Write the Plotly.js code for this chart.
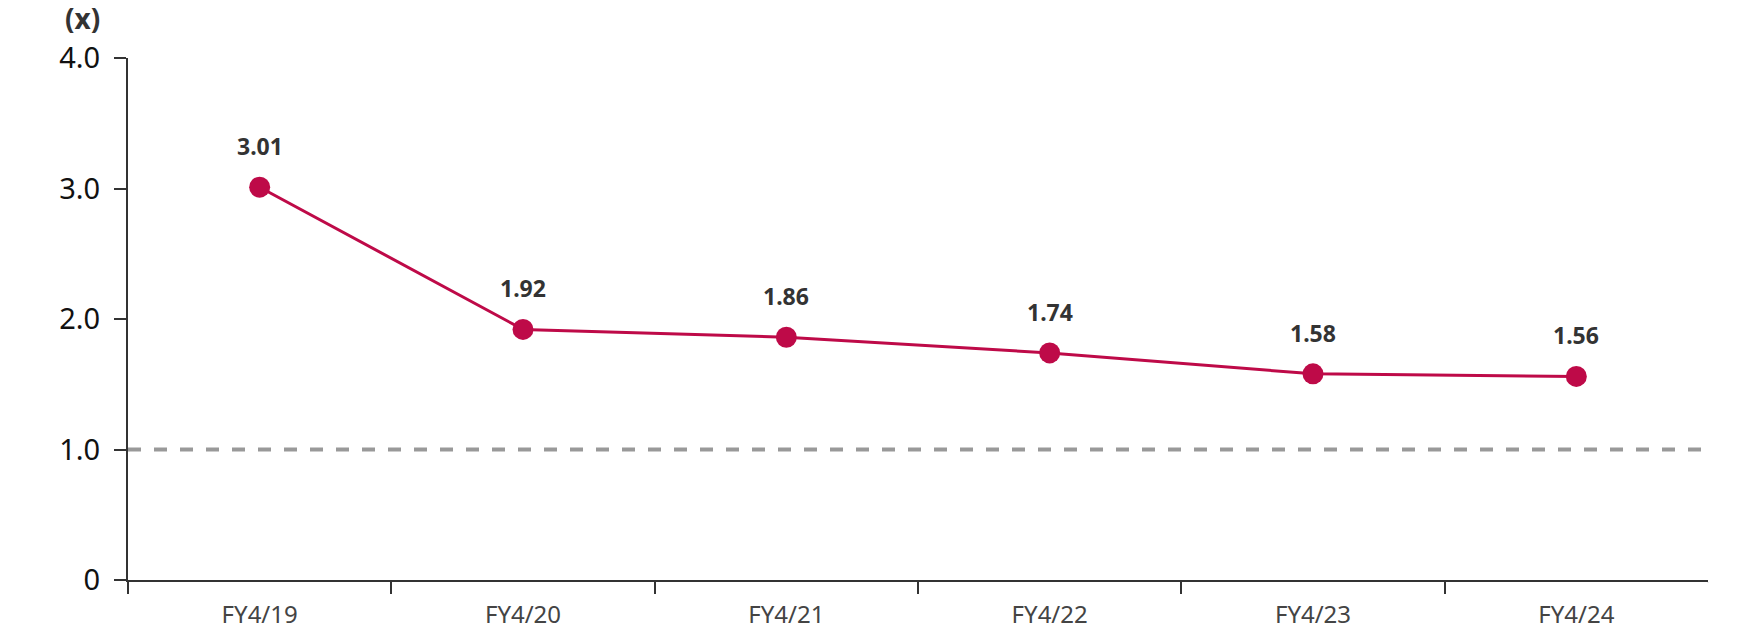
<!DOCTYPE html>
<html>
<head>
<meta charset="utf-8">
<script src="https://cdn.plot.ly/plotly-3.0.1.min.js"></script>
<style>html,body{margin:0;padding:0;background:#fff;}#chart{width:1760px;height:634px;}</style>
</head>
<body>
<div id="chart"></div>
<script>
const categories = ['FY4/19', 'FY4/20', 'FY4/21', 'FY4/22', 'FY4/23', 'FY4/24'];
const ratios = [3.01, 1.92, 1.86, 1.74, 1.58, 1.56];
const valueLabels = ['3.01', '1.92', '1.86', '1.74', '1.58', '1.56'];
const yTickVals = [0, 1, 2, 3, 4];
const yTickText = ['0', '1.0', '2.0', '3.0', '4.0'];
const referenceLevel = 1.0;
const unitLabel = '(x)';

const FONT = '"Noto Sans", "Noto Sans CJK JP", sans-serif';
const LINE = '#BE0A48';

const trace = {
  type: 'scatter',
  mode: 'lines+markers',
  x: categories,
  y: ratios,
  line: {color: LINE, width: 3},
  marker: {color: LINE, size: 21},
  hoverinfo: 'skip',
  cliponaxis: false
};

const annotations = categories.map((c, i) => ({
  x: c, y: ratios[i], xref: 'x', yref: 'y',
  text: '<b>' + valueLabels[i] + '</b>',
  showarrow: false, yshift: 41,
  font: {family: FONT, size: 23, color: '#333333'}
}));
annotations.push({
  xref: 'paper', yref: 'paper', x: -0.029, y: 1.077, xanchor: 'center', yanchor: 'middle',
  text: '<b>' + unitLabel + '</b>', showarrow: false,
  font: {family: FONT, size: 28, color: '#333333'}
});

const layout = {
  width: 1760, height: 634,
  margin: {l: 128, r: 52, t: 58, b: 54},
  paper_bgcolor: '#ffffff', plot_bgcolor: '#ffffff',
  showlegend: false,
  xaxis: {
    type: 'category',
    range: [-0.5, categories.length - 0.5],
    showgrid: false, zeroline: false,
    showline: true, linecolor: '#333333', linewidth: 2,
    ticks: 'outside', tickson: 'boundaries', ticklen: 12, tickwidth: 2, tickcolor: '#333333',
    ticklabelstandoff: 12,
    tickfont: {family: FONT, size: 24, color: '#444444'},
    fixedrange: true
  },
  yaxis: {
    range: [0, 4],
    tickvals: yTickVals, ticktext: yTickText,
    showgrid: false, zeroline: false,
    showline: true, linecolor: '#333333', linewidth: 2,
    ticks: 'outside', ticklen: 12, tickwidth: 2, tickcolor: '#333333',
    ticklabelstandoff: 8,
    tickfont: {family: FONT, size: 29, color: '#111111'},
    fixedrange: true
  },
  shapes: [{
    type: 'line', xref: 'paper', yref: 'y', x0: 0, x1: 1, y0: referenceLevel, y1: referenceLevel,
    line: {color: '#999999', width: 4, dash: '13px,13px'}, layer: 'below'
  }, {
    type: 'line', xref: 'paper', yref: 'paper', x0: 1, x1: 1, y0: -0.004, y1: -0.04,
    line: {color: '#ffffff', width: 5}, layer: 'above'
  }],
  annotations: annotations
};

Plotly.newPlot('chart', [trace], layout, {displayModeBar: false, staticPlot: true});
</script>
</body>
</html>
